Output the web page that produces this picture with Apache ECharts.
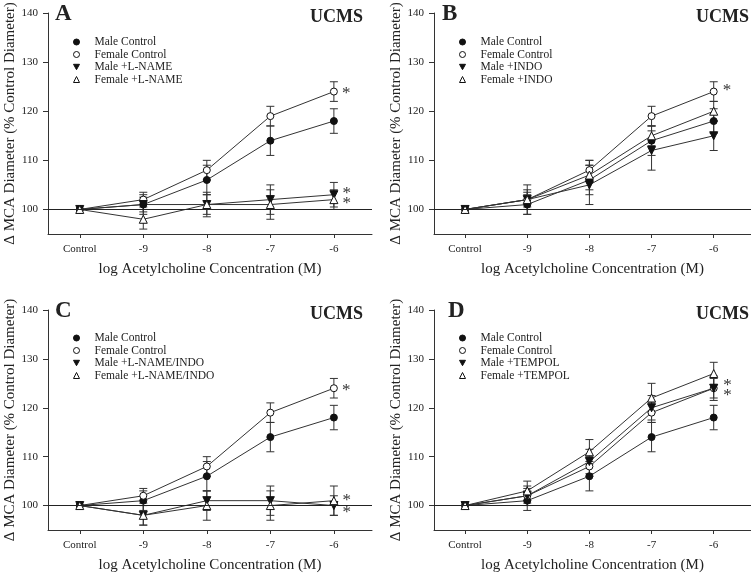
<!DOCTYPE html>
<html><head><meta charset="utf-8">
<script src="https://cdn.jsdelivr.net/npm/echarts@6/dist/echarts.min.js"></script>
<style>html,body{margin:0;padding:0;background:#fff}#c{width:751px;height:574px}</style>
</head><body><div id="c"></div>
<script>
const categories = ['Control', '-9', '-8', '-7', '-6'];
const yTicks = [100, 110, 120, 130, 140];
const panelLetters = ['A', 'B', 'C', 'D'];
const groupLabel = 'UCMS';
const yName = 'Δ MCA Diameter (% Control Diameter)';
const xName = 'log Acetylcholine Concentration (M)';

// shared control groups
const maleControl = [100, 101, 106, 114, 118];
const maleControlErr = [0, 2, 3, 3, 2.5];
const femaleControl = [100, 102, 108, 119, 124];
const femaleControlErr = [0, 1.5, 2, 2, 2];

// Panel A: L-NAME
const maleLName = [100, 101, 101, 102, 103];
const maleLNameErr = [0, 1.5, 2.5, 3, 2.5];
const femaleLName = [100, 98, 101, 101, 102];
const femaleLNameErr = [0, 2, 2, 3, 2];

// Panel B: INDO
const maleIndo = [100, 102, 105, 112, 115];
const maleIndoErr = [0, 3, 4, 4, 3];
const femaleIndo = [100, 102, 107, 115, 120];
const femaleIndoErr = [0, 2, 3, 2, 2];

// Panel C: L-NAME/INDO
const maleLNI = [100, 98, 101, 101, 100];
const maleLNIErr = [0, 2, 2, 3, 2];
const femaleLNI = [100, 98, 100, 100, 101];
const femaleLNIErr = [0, 2, 3, 3, 3];

// Panel D: TEMPOL
const maleTempol = [100, 102, 109, 120, 124];
const maleTempolErr = [0, 2, 2.5, 2.5, 2.5];
const femaleTempol = [100, 103, 111, 122, 127];
const femaleTempolErr = [0, 2, 2.5, 3, 2.3];

const FONT = '"Liberation Serif", "DejaVu Serif", serif';
const INK = '#222';
const DOWN_TRI = 'path://M0,0L10,0L5,9Z';

const styles = {
  mc: { symbol: 'circle', size: 7, fill: '#111', rotate: 0, legendIcon: 'circle' },
  fc: { symbol: 'circle', size: 7, fill: '#fff', rotate: 0, legendIcon: 'circle' },
  mt: { symbol: 'triangle', size: 8, fill: '#111', rotate: 180, legendIcon: DOWN_TRI },
  ft: { symbol: 'triangle', size: 8, fill: '#fff', rotate: 0, legendIcon: 'triangle' }
};

const panels = [
  { series: [
    { name: 'Male Control', v: maleControl, e: maleControlErr, s: 'mc' },
    { name: 'Female Control', v: femaleControl, e: femaleControlErr, s: 'fc', star: [0, 2] },
    { name: 'Male +L-NAME', v: maleLName, e: maleLNameErr, s: 'mt', star: [0, -1] },
    { name: 'Female +L-NAME', v: femaleLName, e: femaleLNameErr, s: 'ft', star: [0, 4] }
  ]},
  { series: [
    { name: 'Male Control', v: maleControl, e: maleControlErr, s: 'mc' },
    { name: 'Female Control', v: femaleControl, e: femaleControlErr, s: 'fc', star: [1, -1] },
    { name: 'Male +INDO', v: maleIndo, e: maleIndoErr, s: 'mt' },
    { name: 'Female +INDO', v: femaleIndo, e: femaleIndoErr, s: 'ft' }
  ]},
  { series: [
    { name: 'Male Control', v: maleControl, e: maleControlErr, s: 'mc' },
    { name: 'Female Control', v: femaleControl, e: femaleControlErr, s: 'fc', star: [0, 2] },
    { name: 'Male +L-NAME/INDO', v: maleLNI, e: maleLNIErr, s: 'mt', star: [0, 7] },
    { name: 'Female +L-NAME/INDO', v: femaleLNI, e: femaleLNIErr, s: 'ft', star: [0, 0] }
  ]},
  { series: [
    { name: 'Male Control', v: maleControl, e: maleControlErr, s: 'mc' },
    { name: 'Female Control', v: femaleControl, e: femaleControlErr, s: 'fc' },
    { name: 'Male +TEMPOL', v: maleTempol, e: maleTempolErr, s: 'mt', star: [1, 7] },
    { name: 'Female +TEMPOL', v: femaleTempol, e: femaleTempolErr, s: 'ft', star: [1, 12] }
  ]}
];

const gridPos = [
  { left: 48, top: 13 }, { left: 434, top: 13 },
  { left: 48, top: 310 }, { left: 434, top: 310 }
];
const legendPos = [
  { left: 73, top: 36 }, { left: 459, top: 36 },
  { left: 73, top: 332 }, { left: 459, top: 332 }
];

function renderErr(params, api) {
  const x = api.value(0), y = api.value(1), e = api.value(2);
  if (!e) return;
  const top = api.coord([x, y + e]), bot = api.coord([x, y - e]);
  const w = 4;
  const st = { stroke: '#333', lineWidth: 1 };
  return { type: 'group', children: [
    { type: 'line', shape: { x1: top[0], y1: top[1], x2: bot[0], y2: bot[1] }, style: st },
    { type: 'line', shape: { x1: top[0] - w, y1: top[1], x2: top[0] + w, y2: top[1] }, style: st },
    { type: 'line', shape: { x1: bot[0] - w, y1: bot[1], x2: bot[0] + w, y2: bot[1] }, style: st }
  ]};
}

const grid = [], xAxis = [], yAxis = [], series = [], legend = [], graphic = [];
panels.forEach((p, gi) => {
  grid.push({ left: gridPos[gi].left, top: gridPos[gi].top, width: 324, height: 221 });
  xAxis.push({
    type: 'value', gridIndex: gi, min: -0.5, max: 4.6,
    name: xName, nameLocation: 'middle', nameGap: 28,
    nameTextStyle: { fontFamily: FONT, fontSize: 15, color: INK },
    axisLine: { onZero: false, lineStyle: { color: '#333', width: 1 } },
    axisTick: { show: true, inside: false, length: 4, customValues: [0, 1, 2, 3, 4], lineStyle: { color: '#333' } },
    axisLabel: { customValues: [0, 1, 2, 3, 4], formatter: v => categories[v] ?? '', fontFamily: FONT, fontSize: 11, color: INK, margin: 10 },
    splitLine: { show: false }
  });
  yAxis.push({
    type: 'value', gridIndex: gi, min: 95, max: 140,
    name: yName, nameLocation: 'middle', nameGap: 29,
    nameTextStyle: { fontFamily: FONT, fontSize: 15, color: INK },
    axisLine: { show: true, onZero: false, lineStyle: { color: '#333', width: 1 } },
    axisTick: { show: true, inside: false, length: 5, customValues: yTicks, lineStyle: { color: '#333' } },
    axisLabel: { customValues: yTicks, fontFamily: FONT, fontSize: 11, color: INK, margin: 10 },
    splitLine: { show: false }
  });
  p.series.forEach((s, si) => {
    const st = styles[s.s];
    series.push({
      type: 'custom', xAxisIndex: gi, yAxisIndex: gi, z: 1, silent: true,
      renderItem: renderErr, encode: { x: 0, y: 1 },
      data: s.v.map((v, i) => [i, v, s.e[i]])
    });
    const ser = {
      type: 'line', name: s.name, xAxisIndex: gi, yAxisIndex: gi, z: 3,
      data: s.v.map((v, i) => [i, v]),
      symbol: st.symbol, symbolSize: st.size, symbolRotate: st.rotate, showAllSymbol: true,
      lineStyle: { color: '#333', width: 1 },
      itemStyle: { color: st.fill, borderColor: '#111', borderWidth: 1 },
      emphasis: { disabled: true },
      animation: false,
      label: {
        show: !!s.star, position: 'right', distance: 4,
        offset: s.star || [0, 0],
        formatter: q => (q.dataIndex === 4 ? '*' : ''),
        fontFamily: FONT, fontSize: 17, color: '#333'
      }
    };
    if (si === 0) {
      ser.markLine = {
        silent: true, symbol: 'none', animation: false,
        label: { show: false },
        lineStyle: { color: '#222', width: 1, type: 'solid' },
        data: [{ yAxis: 100 }]
      };
    }
    series.push(ser);
  });
  legend.push({
    orient: 'vertical', left: legendPos[gi].left, top: legendPos[gi].top, padding: 0,
    itemWidth: 6, itemHeight: 6, itemGap: 0.5, selectedMode: false,
    itemStyle: { borderWidth: 1 },
    data: p.series.map(s => ({ name: s.name, icon: styles[s.s].legendIcon })),
    textStyle: { fontFamily: FONT, fontSize: 11.5, color: INK, lineHeight: 12, padding: [0, 0, 0, 10] }
  });
});

const letterPos = [
  { left: 55, top: 3, uRight: 388, uTop: 8 },
  { left: 442, top: 3, uRight: 2, uTop: 8 },
  { left: 55, top: 300, uRight: 388, uTop: 305 },
  { left: 448, top: 300, uRight: 2, uTop: 305 }
];
letterPos.forEach((lp, i) => {
  graphic.push({ type: 'text', left: lp.left, top: lp.top, style: { text: panelLetters[i], font: 'bold 23px ' + FONT, fill: INK } });
  graphic.push({ type: 'text', right: lp.uRight, top: lp.uTop, style: { text: groupLabel, font: 'bold 18px ' + FONT, fill: INK } });
});

const chart = echarts.init(document.getElementById('c'), null, { renderer: 'canvas' });
chart.setOption({ animation: false, backgroundColor: '#fff', grid, xAxis, yAxis, series, legend, graphic });
</script>
</body></html>
